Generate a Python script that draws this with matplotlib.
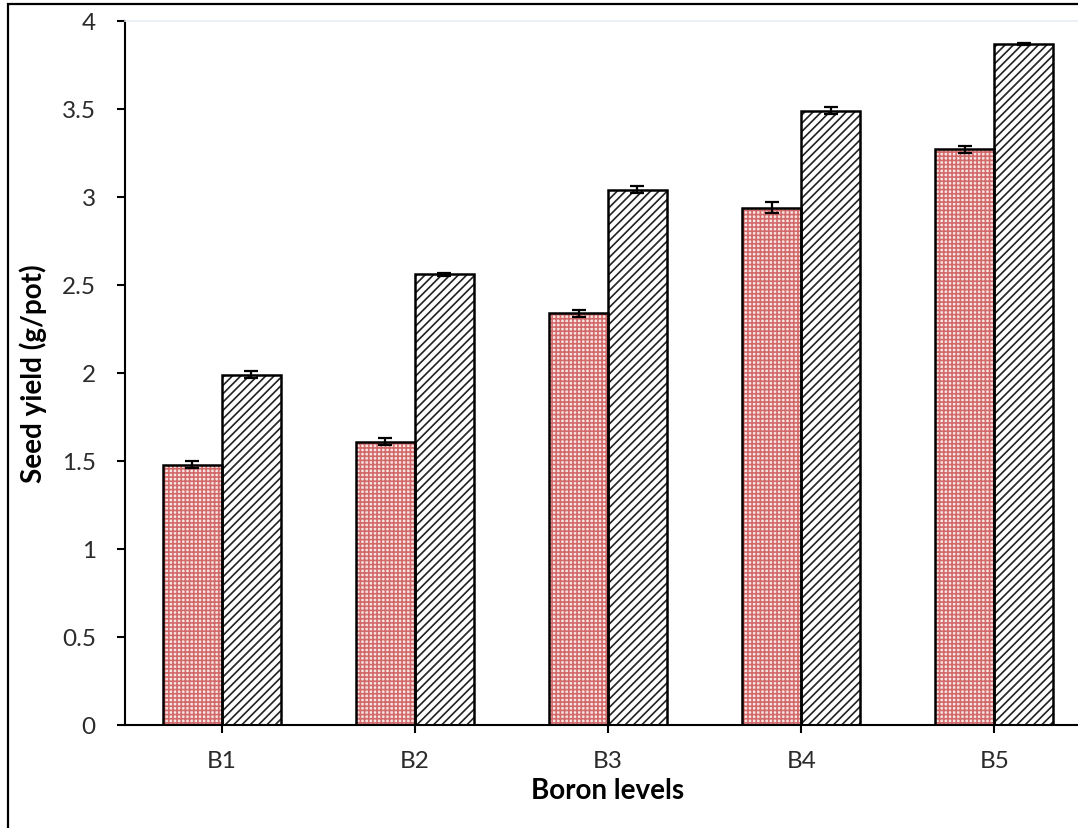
import matplotlib.pyplot as plt
import numpy as np
from matplotlib.patches import Rectangle

plt.rcParams['font.family'] = ['Lato', 'DejaVu Sans']
plt.rcParams['hatch.linewidth'] = 1.2

# data
levels = ['B1', 'B2', 'B3', 'B4', 'B5']
red_vals = [1.48, 1.61, 2.34, 2.94, 3.27]
red_err = [0.02, 0.02, 0.02, 0.03, 0.02]
black_vals = [1.99, 2.56, 3.04, 3.49, 3.87]
black_err = [0.02, 0.01, 0.02, 0.02, 0.005]

fig = plt.figure(figsize=(10.78, 8.29), dpi=100)
ax = fig.add_axes([125 / 1078, 103 / 829, 966 / 1078, 704 / 829])

x = np.arange(len(levels))
w = 0.305

# red patterned bars (hatch drawn in red, outline added after)
ax.bar(x - w / 2, red_vals, width=w, facecolor='#f8e6e6', edgecolor='#d26a6a',
       hatch='++++', linewidth=0, zorder=2)
ax.bar(x - w / 2, red_vals, width=w, facecolor='none', edgecolor='black',
       linewidth=1.8, zorder=3)
ax.errorbar(x - w / 2, red_vals, yerr=red_err, fmt='none', ecolor='black',
            elinewidth=1.6, capsize=5, capthick=1.6, zorder=4)

# black diagonal bars
ax.bar(x + w / 2, black_vals, width=w, facecolor='white', edgecolor='#222222',
       hatch='////', linewidth=0, zorder=2)
ax.bar(x + w / 2, black_vals, width=w, facecolor='none', edgecolor='black',
       linewidth=1.8, zorder=3)
ax.errorbar(x + w / 2, black_vals, yerr=black_err, fmt='none', ecolor='black',
            elinewidth=1.6, capsize=5, capthick=1.6, zorder=4)

ax.set_xlim(-0.5, 4.5)
ax.set_ylim(0, 4)
ax.set_yticks(np.arange(0, 4.01, 0.5))
ax.set_yticklabels(['0', '0.5', '1', '1.5', '2', '2.5', '3', '3.5', '4'])
ax.set_xticks(x)
ax.set_xticklabels(levels)

ax.spines['right'].set_visible(False)
ax.spines['top'].set_color('#e6edf5')
ax.spines['top'].set_linewidth(1.2)
ax.spines['left'].set_linewidth(1.5)
ax.spines['bottom'].set_linewidth(1.5)

ax.tick_params(axis='both', direction='out', length=6, width=1.5,
               labelsize=17.5, colors='black', labelcolor='#2b2b2b')
ax.tick_params(axis='x', pad=12)
ax.tick_params(axis='y', pad=15)

ax.set_xlabel('Boron levels', fontsize=20, fontweight='bold', labelpad=4)
ax.set_ylabel('Seed yield (g/pot)', fontsize=20, fontweight='bold', labelpad=11)

# outer border of the picture
fig.patches.append(Rectangle((8 / 1078, -0.1), 2, 1.1 - 5 / 829, transform=fig.transFigure,
                             fill=False, edgecolor='black', linewidth=1.6))

fig.savefig('out.png', dpi=100)
